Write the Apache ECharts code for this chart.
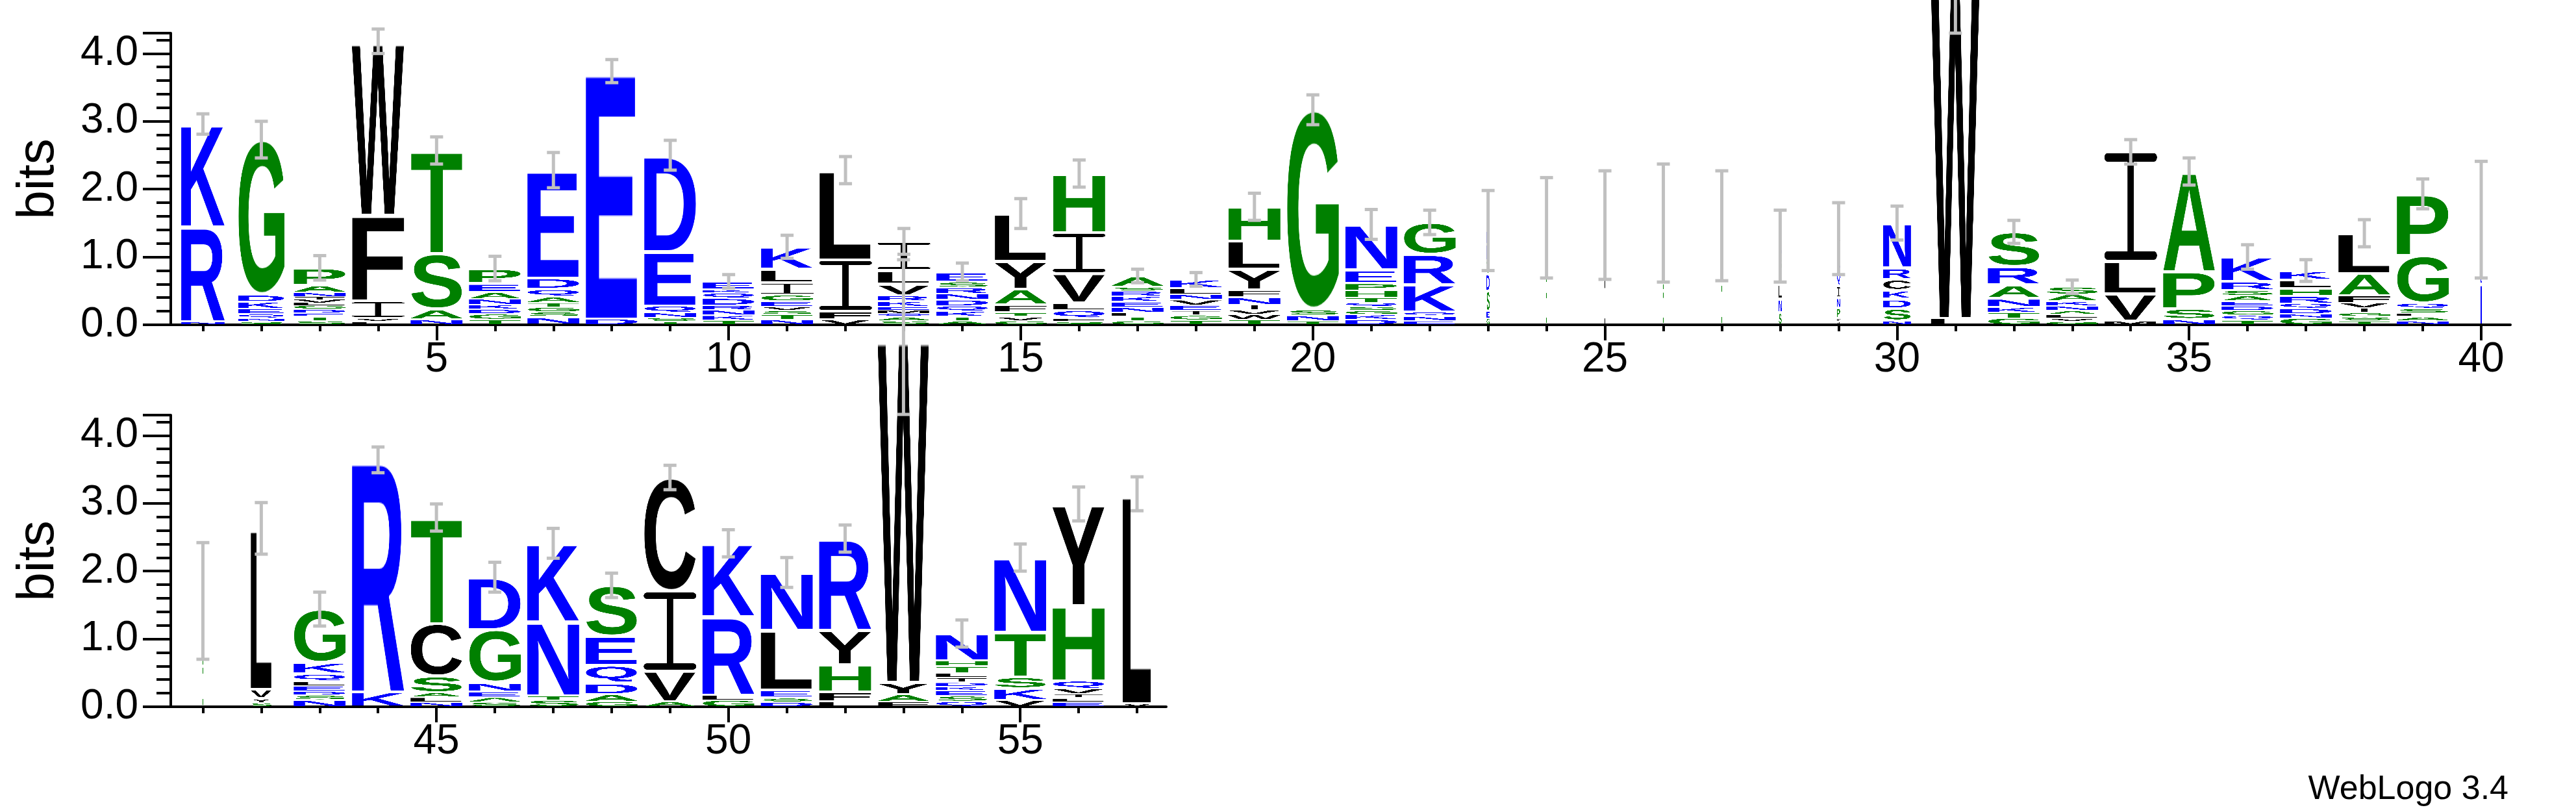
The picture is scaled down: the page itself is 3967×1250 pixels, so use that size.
<!DOCTYPE html>
<html>
<head>
<meta charset="utf-8">
<script src="https://cdn.jsdelivr.net/npm/echarts@6.0.0/dist/echarts.min.js"></script>
<style>
  html, body { margin: 0; padding: 0; background: #fff; }
  #chartDom { width: 3967px; height: 1250px; }
</style>
</head>
<body>
<div id="chartDom"></div>
<script>
// positions of the two rows
var topPositions = [];
for (var p = 1; p <= 40; p++) topPositions.push(p);
var bottomPositions = [];
for (var q = 41; q <= 57; q++) bottomPositions.push(q);

var topTickLabels = [5, 10, 15, 20, 25, 30, 35, 40];
var bottomTickLabels = [45, 50, 55];
var yTickLabels = [0, 1, 2, 3, 4];

// letter stacks, bottom to top: [letter, bits]
var stacks = [
  [['N',0.05],['R',1.40],['K',1.51]],
  [['S',0.05],['N',0.05],['Q',0.06],['E',0.08],['K',0.1],['D',0.1],['G',2.29]],
  [['S',0.06],['T',0.06],['E',0.05],['D',0.06],['G',0.06],['L',0.04],['V',0.04],['I',0.04],['N',0.07],['A',0.1],['P',0.26]],
  [['L',0.05],['V',0.05],['I',0.25],['F',1.27],['W',2.56]],
  [['N',0.08],['A',0.15],['S',0.82],['T',1.52]],
  [['T',0.08],['G',0.08],['D',0.07],['K',0.07],['N',0.08],['A',0.1],['E',0.13],['P',0.22]],
  [['N',0.12],['S',0.07],['G',0.07],['T',0.07],['A',0.08],['Q',0.12],['D',0.16],['E',1.59]],
  [['D',0.09],['E',3.65]],
  [['T',0.05],['S',0.06],['N',0.07],['Q',0.1],['E',0.8],['D',1.42]],
  [['T',0.07],['K',0.07],['N',0.08],['R',0.07],['D',0.1],['Q',0.08],['K',0.05],['E',0.12]],
  [['N',0.08],['T',0.07],['S',0.06],['V',0.06],['E',0.08],['G',0.09],['I',0.18],['L',0.2],['K',0.33]],
  [['V',0.08],['F',0.12],['I',0.76],['L',1.32]],
  [['S',0.06],['A',0.06],['Q',0.05],['M',0.04],['E',0.06],['K',0.08],['R',0.08],['V',0.17],['L',0.2],['I',0.43]],
  [['A',0.06],['T',0.06],['K',0.08],['Q',0.08],['D',0.09],['N',0.09],['R',0.09],['S',0.08],['E',0.15]],
  [['G',0.06],['V',0.06],['T',0.06],['F',0.12],['A',0.23],['Y',0.41],['L',0.7]],
  [['S',0.05],['F',0.05],['Q',0.11],['L',0.12],['V',0.43],['I',0.6],['H',0.87]],
  [['G',0.06],['T',0.06],['L',0.06],['N',0.08],['E',0.08],['K',0.08],['R',0.08],['S',0.06],['A',0.16]],
  [['T',0.07],['G',0.07],['I',0.07],['E',0.08],['V',0.08],['N',0.08],['L',0.09],['K',0.13]],
  [['T',0.08],['W',0.07],['V',0.07],['I',0.08],['N',0.1],['F',0.12],['Y',0.3],['L',0.42],['H',0.5]],
  [['T',0.06],['N',0.08],['S',0.08],['G',2.95]],
  [['D',0.08],['K',0.07],['G',0.06],['S',0.06],['Q',0.06],['T',0.07],['H',0.11],['P',0.1],['E',0.2],['N',0.67]],
  [['E',0.06],['N',0.07],['Q',0.06],['K',0.4],['R',0.45],['G',0.47]],
  [['G',0.1],['E',0.1],['S',0.3],['D',0.25],['T',0.2],['N',0.24],['K',0.2]],
  [['G',0.5],['A',0.5],['S',0.43]],
  [['L',0.5],['V',0.5],['I',0.47]],
  [['G',0.5],['S',0.5],['T',0.5]],
  [['G',0.6],['A',0.5],['S',0.36]],
  [['S',0.18],['N',0.2],['L',0.22],['K',0.2],['G',0.2],['D',0.16]],
  [['W',0.1],['P',0.15],['N',0.15],['I',0.17],['Q',0.25],['E',0.25],['V',0.2]],
  [['N',0.06],['S',0.18],['D',0.14],['K',0.13],['C',0.16],['R',0.17],['N',0.66]],
  [['L',0.1],['W',5.1]],
  [['G',0.1],['T',0.08],['K',0.08],['N',0.13],['A',0.2],['R',0.27],['S',0.51]],
  [['G',0.05],['V',0.05],['L',0.05],['A',0.06],['N',0.07],['K',0.07],['A',0.1],['S',0.11]],
  [['M',0.06],['V',0.4],['L',0.48],['I',1.61]],
  [['N',0.08],['S',0.16],['P',0.55],['A',1.47]],
  [['T',0.07],['Q',0.07],['G',0.07],['D',0.07],['E',0.07],['A',0.08],['S',0.08],['R',0.13],['K',0.36]],
  [['G',0.1],['N',0.06],['D',0.08],['Q',0.08],['R',0.1],['H',0.12],['L',0.12],['K',0.14]],
  [['T',0.06],['S',0.06],['G',0.06],['I',0.07],['V',0.08],['F',0.1],['A',0.33],['L',0.59]],
  [['N',0.06],['A',0.06],['L',0.05],['S',0.07],['Q',0.08],['G',0.7],['P',0.91]],
  [['N',0.6],['K',0.5],['D',0.45]],
  [['G',0.6],['S',0.5],['A',0.46]],
  [['S',0.06],['Y',0.06],['V',0.14],['L',2.37]],
  [['N',0.1],['S',0.07],['D',0.06],['E',0.08],['L',0.06],['Q',0.12],['K',0.16],['G',0.79]],
  [['K',0.22],['R',3.42]],
  [['N',0.07],['L',0.07],['A',0.07],['S',0.24],['C',0.78],['T',1.56]],
  [['S',0.07],['A',0.07],['E',0.08],['N',0.14],['G',0.78],['D',0.77]],
  [['S',0.1],['T',0.06],['N',1.09],['K',1.16]],
  [['G',0.08],['A',0.1],['D',0.17],['Q',0.26],['E',0.43],['S',0.75]],
  [['A',0.08],['V',0.45],['I',1.17],['C',1.68]],
  [['G',0.1],['L',0.07],['R',1.16],['K',1.08]],
  [['D',0.07],['S',0.06],['E',0.12],['L',0.88],['N',0.85]],
  [['L',0.08],['F',0.14],['H',0.4],['Y',0.51],['R',1.35]],
  [['F',0.08],['A',0.1],['Y',0.18],['W',5.09]],
  [['Q',0.08],['S',0.08],['E',0.08],['K',0.06],['D',0.06],['I',0.07],['L',0.07],['T',0.1],['H',0.08],['N',0.4]],
  [['V',0.1],['K',0.17],['S',0.17],['T',0.66],['N',1.1]],
  [['E',0.07],['L',0.06],['I',0.06],['V',0.08],['Q',0.11],['H',1.11],['Y',1.5]],
  [['V',0.05],['L',3.09]]
];

// error bar half lengths (bits)
var errHalf = [
  0.15,0.27,0.18,0.18,0.2,0.18,0.26,0.17,0.22,0.1,
  0.17,0.2,0.19,0.13,0.22,0.2,0.1,0.1,0.2,0.22,
  0.22,0.18,0.59,0.74,0.8,0.87,0.81,0.53,0.53,0.25,
  0.9,0.17,0.1,0.18,0.2,0.18,0.16,0.2,0.22,0.86,
  0.86,0.38,0.25,0.19,0.2,0.22,0.22,0.18,0.18,0.2,
  0.22,0.2,1.14,0.2,0.2,0.25,0.25
];

// column widths (fraction of one position)
var widths = [
  0.75,0.8,0.9,0.9,0.9,0.9,0.9,0.9,0.9,0.9,
  0.9,0.9,0.9,0.9,0.9,0.9,0.9,0.9,0.9,0.9,
  0.9,0.9,0.05,0.012,0.01,0.01,0.012,0.05,0.05,0.48,
  0.85,0.9,0.9,0.9,0.9,0.9,0.9,0.9,0.9,0.012,
  0.012,0.36,0.9,0.9,0.9,0.9,0.9,0.9,0.9,0.9,
  0.9,0.9,0.88,0.9,0.9,0.9,0.5
];

var blueSet = 'KRDENQ', greenSet = 'GSTHAP';
function letterColor(ch) {
  if (blueSet.indexOf(ch) >= 0) return '#0000ff';
  if (greenSet.indexOf(ch) >= 0) return '#008000';
  return '#000000';
}

var glyphCache = {};
function glyph(ch) {
  if (glyphCache[ch]) return glyphCache[ch];
  var c = document.createElement('canvas');
  var ctx;
  if (ch === 'I') {
    // serif I, as in the logo font
    c.width = 200; c.height = 300;
    ctx = c.getContext('2d');
    ctx.fillStyle = letterColor(ch);
    ctx.beginPath();
    ctx.roundRect(0, 0, 200, 24, 12);
    ctx.roundRect(0, 276, 200, 24, 12);
    ctx.fill();
    ctx.fillRect(88, 12, 24, 276);
    glyphCache[ch] = c;
    return c;
  }
  var font = 'bold 300px "Liberation Sans", Arial, sans-serif';
  ctx = c.getContext('2d');
  ctx.font = font;
  var m = ctx.measureText(ch);
  var l = m.actualBoundingBoxLeft, r = m.actualBoundingBoxRight;
  var a = m.actualBoundingBoxAscent, d = m.actualBoundingBoxDescent;
  c.width = Math.max(1, Math.ceil(l + r));
  c.height = Math.max(1, Math.ceil(a + d));
  ctx = c.getContext('2d');
  ctx.font = font;
  ctx.fillStyle = letterColor(ch);
  ctx.fillText(ch, l, a);
  glyphCache[ch] = c;
  return c;
}

function renderLogo(params, api) {
  var pos = api.value(0);
  var i = pos - 1;
  var w = widths[i];
  var children = [];
  var base = 0;
  stacks[i].forEach(function (it) {
    var p0 = api.coord([pos - w / 2, base + it[1]]);
    var p1 = api.coord([pos + w / 2, base]);
    var h = p1[1] - p0[1];
    var pad = h > 12 ? 2 : (h > 5 ? 1 : 0);
    children.push({
      type: 'image',
      style: { image: glyph(it[0]), x: p0[0], y: p0[1] + pad,
               width: Math.max(1, p1[0] - p0[0]), height: h - 2 * pad }
    });
    base += it[1];
  });
  var e = errHalf[i];
  var c = api.coord([pos, base]);
  var hi = api.coord([pos, base + e]);
  var lo = api.coord([pos, base - e]);
  var st = { stroke: '#c0c0c0', lineWidth: 5 };
  children.push({ type: 'line', shape: { x1: c[0], y1: hi[1], x2: c[0], y2: lo[1] }, style: st });
  children.push({ type: 'line', shape: { x1: c[0] - 10, y1: hi[1], x2: c[0] + 10, y2: hi[1] }, style: st });
  children.push({ type: 'line', shape: { x1: c[0] - 10, y1: lo[1], x2: c[0] + 10, y2: lo[1] }, style: st });
  return { type: 'group', children: children };
}

var labelFont = { fontSize: 64, color: '#000', fontFamily: '"Liberation Sans", Arial, sans-serif' };
var blackLine = { color: '#000', width: 4 };

function xAxes(gridIndex, min, max, positions, labels) {
  return [{
    type: 'value', gridIndex: gridIndex, min: min, max: max,
    axisLine: { show: true, onZero: false, lineStyle: blackLine },
    axisTick: { show: true, customValues: positions, length: 10, lineStyle: blackLine },
    axisLabel: Object.assign({ customValues: labels, margin: 22 }, labelFont),
    splitLine: { show: false }
  }, {
    type: 'value', gridIndex: gridIndex, min: min, max: max, position: 'bottom',
    axisLine: { show: false },
    axisTick: { show: true, customValues: labels, length: 24, lineStyle: blackLine },
    axisLabel: { show: false },
    splitLine: { show: false }
  }];
}

function yAxis(gridIndex) {
  return {
    type: 'value', gridIndex: gridIndex, min: 0, max: 4.3, interval: 1,
    name: 'bits', nameLocation: 'middle', nameGap: 163,
    nameTextStyle: { fontSize: 80, color: '#000', fontFamily: '"Liberation Sans", Arial, sans-serif' },
    axisLine: { show: true, lineStyle: blackLine },
    axisTick: { show: true, length: 43, lineStyle: blackLine },
    minorTick: { show: true, splitNumber: 5, length: 22, lineStyle: blackLine },
    axisLabel: Object.assign({ margin: 50, customValues: yTickLabels,
      formatter: function (v) { return v.toFixed(1); } }, labelFont),
    splitLine: { show: false }
  };
}

var myChart = echarts.init(document.getElementById('chartDom'));

function draw() {
  var option = {
    backgroundColor: '#fff',
    animation: false,
    grid: [
      { left: 263, right: 101, top: 51, height: 449 },
      { left: 263, width: 1533, top: 639, height: 449 }
    ],
    xAxis: xAxes(0, 0.45, 40.5, topPositions, topTickLabels)
      .concat(xAxes(1, 40.45, 57.5, bottomPositions, bottomTickLabels)),
    yAxis: [yAxis(0), yAxis(1)],
    graphic: [{
      type: 'text', right: 104, top: 1190,
      style: { text: 'WebLogo 3.4', fontSize: 52, fill: '#000',
               fontFamily: '"Liberation Sans", Arial, sans-serif' }
    }],
    series: [{
      type: 'custom', xAxisIndex: 0, yAxisIndex: 0, clip: false,
      encode: { x: 0, y: 1 },
      data: topPositions.map(function (p) { return [p, 0]; }),
      renderItem: renderLogo
    }, {
      type: 'custom', xAxisIndex: 2, yAxisIndex: 1, clip: false,
      encode: { x: 0, y: 1 },
      data: bottomPositions.map(function (p) { return [p, 0]; }),
      renderItem: renderLogo
    }]
  };
  myChart.setOption(option);
}

if (document.fonts && document.fonts.load) {
  document.fonts.load('bold 300px "Liberation Sans"').then(draw, draw);
} else {
  draw();
}
</script>
</body>
</html>
